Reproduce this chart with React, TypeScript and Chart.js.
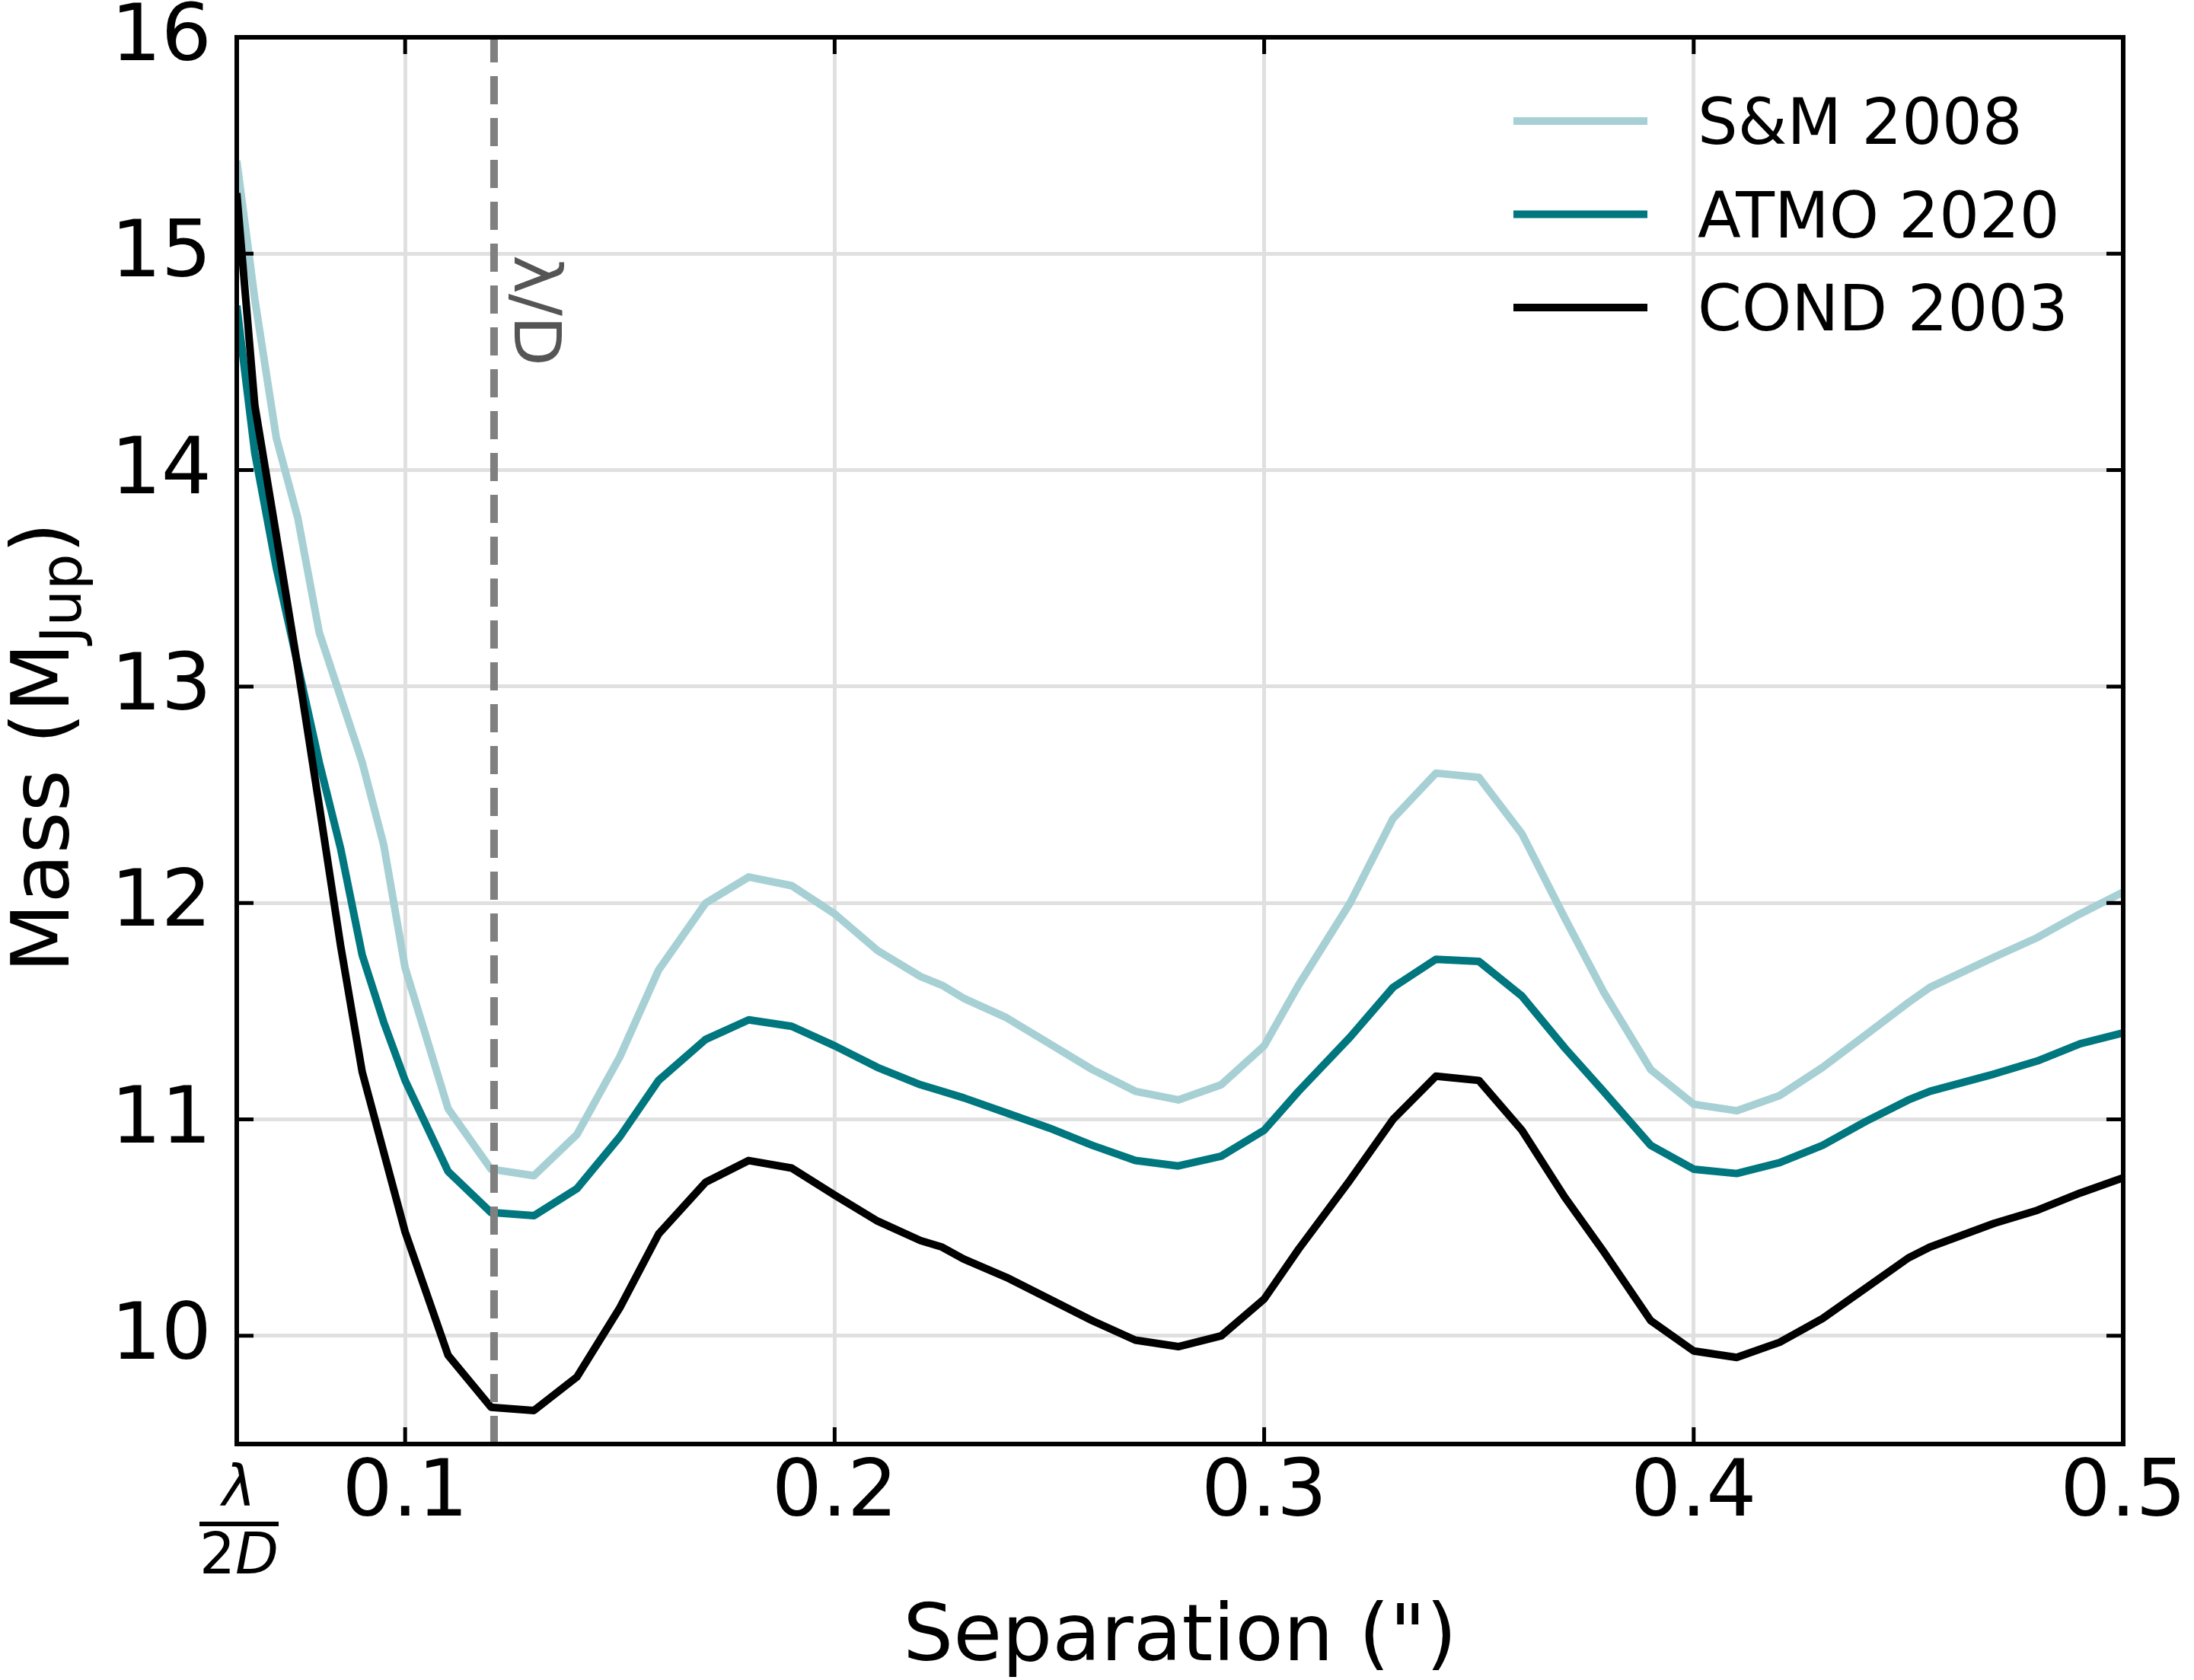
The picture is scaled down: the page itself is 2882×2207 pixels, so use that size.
import { useEffect, useRef } from 'react';
import { Chart, registerables } from 'chart.js';

Chart.register(...registerables);

const FONT = "'DejaVu Sans', sans-serif";

// λ/2D and λ/D in arcsec
const LAMBDA_2D = 0.0608;
const LAMBDA_D = 0.1207;

const Y_MIN = 9.5;
const Y_MAX = 16;

const separation = [
  0.0608, 0.065, 0.07, 0.075, 0.08, 0.085, 0.09, 0.095, 0.1, 0.11, 0.12, 0.13, 0.14, 0.15,
  0.159, 0.17, 0.18, 0.19, 0.2, 0.21, 0.22, 0.225, 0.23, 0.24, 0.25, 0.26, 0.27, 0.28, 0.29,
  0.3, 0.308, 0.32, 0.33, 0.34, 0.35, 0.36, 0.37, 0.379, 0.39, 0.4, 0.41, 0.42, 0.43, 0.44,
  0.45, 0.455, 0.47, 0.48, 0.49, 0.5,
];

const smMass = [
  15.43, 14.79, 14.15, 13.78, 13.25, 12.95, 12.65, 12.27, 11.7, 11.05, 10.77, 10.74, 10.93, 11.29,
  11.69, 12.0, 12.12, 12.08, 11.95, 11.78, 11.66, 11.62, 11.56, 11.47, 11.35, 11.23, 11.13, 11.09, 11.16,
  11.34, 11.62, 12.0, 12.39, 12.6, 12.58, 12.32, 11.93, 11.59, 11.23, 11.07, 11.04, 11.11, 11.24, 11.39,
  11.54, 11.61, 11.75, 11.84, 11.95, 12.05,
];

const atmoMass = [
  14.76, 14.08, 13.55, 13.1, 12.65, 12.25, 11.76, 11.45, 11.18, 10.76, 10.57, 10.555, 10.68, 10.92,
  11.18, 11.37, 11.46, 11.43, 11.34, 11.24, 11.16, 11.13, 11.1, 11.03, 10.96, 10.88, 10.81, 10.785, 10.83,
  10.95, 11.13, 11.38, 11.61, 11.74, 11.73, 11.57, 11.33, 11.13, 10.88, 10.77, 10.75, 10.8, 10.88, 10.99,
  11.09, 11.13, 11.21, 11.27, 11.35, 11.4,
];

const condMass = [
  15.28, 14.3, 13.7, 13.09, 12.45, 11.8, 11.22, 10.85, 10.48, 9.91, 9.67, 9.655, 9.81, 10.13,
  10.47, 10.71, 10.81, 10.775, 10.65, 10.53, 10.44, 10.41, 10.355, 10.27, 10.17, 10.07, 9.98, 9.95, 10.0,
  10.17, 10.4, 10.72, 11.0, 11.2, 11.18, 10.95, 10.64, 10.39, 10.07, 9.93, 9.9, 9.97, 10.08, 10.22,
  10.36, 10.41, 10.52, 10.58, 10.66, 10.73,
];

const xTickValues = [LAMBDA_2D, 0.1, 0.2, 0.3, 0.4, 0.5];
const yTickValues = [10, 11, 12, 13, 14, 15, 16];

const seriesLabels = ['S&M 2008', 'ATMO 2020', 'COND 2003'];
const seriesColors = ['#a7d0d4', '#00767f', '#000000'];

const toPoints = (ys: number[]) => separation.map((x, i) => ({ x, y: ys[i] }));

// ticks pointing inward on all four sides, the frame, the λ/2D label, legend, y title
const framePlugin = {
  id: 'frame',
  afterDraw(chart: Chart) {
    const ctx = chart.ctx;
    const { left, right, top, bottom } = chart.chartArea;
    const xs = chart.scales.x;
    const ys = chart.scales.y;
    ctx.save();

    ctx.strokeStyle = '#000';
    ctx.lineWidth = 5;
    ctx.beginPath();
    xTickValues.forEach((v) => {
      const px = xs.getPixelForValue(v);
      ctx.moveTo(px, bottom);
      ctx.lineTo(px, bottom - 22);
      ctx.moveTo(px, top);
      ctx.lineTo(px, top + 22);
    });
    yTickValues.forEach((v) => {
      const py = ys.getPixelForValue(v);
      ctx.moveTo(left, py);
      ctx.lineTo(left + 22, py);
      ctx.moveTo(right, py);
      ctx.lineTo(right - 22, py);
    });
    ctx.stroke();

    ctx.lineWidth = 6;
    ctx.strokeRect(left, top, right - left, bottom - top);

    // λ/2D fraction under the left edge
    const cx = xs.getPixelForValue(LAMBDA_2D) + 3;
    ctx.fillStyle = '#000';
    ctx.textAlign = 'center';
    ctx.textBaseline = 'alphabetic';
    ctx.font = `italic 74px ${FONT}`;
    ctx.fillText('λ', cx, bottom + 81);
    ctx.fillRect(cx - 52, bottom + 102, 104, 6);
    ctx.font = `74px ${FONT}`;
    const w2 = ctx.measureText('2').width;
    ctx.font = `italic 74px ${FONT}`;
    const wD = ctx.measureText('D').width;
    ctx.textAlign = 'left';
    ctx.font = `74px ${FONT}`;
    ctx.fillText('2', cx - (w2 + wD) / 2, bottom + 170);
    ctx.font = `italic 74px ${FONT}`;
    ctx.fillText('D', cx - (w2 + wD) / 2 + w2, bottom + 170);

    // λ/D label along the dashed line
    ctx.save();
    ctx.translate(xs.getPixelForValue(LAMBDA_D) + 27, 335);
    ctx.rotate(Math.PI / 2);
    ctx.fillStyle = '#555555';
    ctx.font = `86px ${FONT}`;
    ctx.textAlign = 'left';
    ctx.fillText('λ/D', 0, 0);
    ctx.restore();

    // y axis title with subscript
    ctx.save();
    ctx.translate(90, 982);
    ctx.rotate(-Math.PI / 2);
    ctx.fillStyle = '#000';
    ctx.textAlign = 'left';
    ctx.font = `106px ${FONT}`;
    const wMain = ctx.measureText('Mass (M').width;
    const wClose = ctx.measureText(')').width;
    ctx.font = `75px ${FONT}`;
    const wSub = ctx.measureText('Jup').width;
    let tx = -(wMain + wSub + wClose) / 2;
    ctx.font = `106px ${FONT}`;
    ctx.fillText('Mass (M', tx, 0);
    tx += wMain;
    ctx.font = `75px ${FONT}`;
    ctx.fillText('Jup', tx, 16);
    tx += wSub;
    ctx.font = `106px ${FONT}`;
    ctx.fillText(')', tx, 0);
    ctx.restore();

    // legend
    ctx.font = `83px ${FONT}`;
    ctx.textAlign = 'left';
    ctx.textBaseline = 'alphabetic';
    seriesLabels.forEach((label, i) => {
      const ly = 159 + i * 122.5;
      ctx.strokeStyle = seriesColors[i];
      ctx.lineWidth = 10;
      ctx.beginPath();
      ctx.moveTo(1988, ly);
      ctx.lineTo(2164, ly);
      ctx.stroke();
      ctx.fillStyle = '#000';
      ctx.fillText(label, 2230, ly + 30);
    });

    ctx.restore();
  },
};

const MassLimits = () => {
  const canvasRef = useRef<HTMLCanvasElement>(null);

  useEffect(() => {
    if (!canvasRef.current) return;

    const line = (label: string, ys: number[], color: string, order: number) => ({
      label,
      data: toPoints(ys),
      borderColor: color,
      backgroundColor: color,
      borderWidth: 10,
      pointRadius: 0,
      tension: 0,
      borderJoinStyle: 'round' as const,
      order,
    });

    const chart = new Chart(canvasRef.current, {
      type: 'line',
      data: {
        datasets: [
          {
            label: 'lambda/D',
            data: [
              { x: LAMBDA_D, y: Y_MIN },
              { x: LAMBDA_D, y: Y_MAX },
            ],
            borderColor: '#808080',
            borderWidth: 10,
            borderDash: [37, 18],
            pointRadius: 0,
            order: 0,
          },
          line(seriesLabels[2], condMass, seriesColors[2], 1),
          line(seriesLabels[1], atmoMass, seriesColors[1], 2),
          line(seriesLabels[0], smMass, seriesColors[0], 3),
        ],
      },
      options: {
        responsive: true,
        maintainAspectRatio: false,
        devicePixelRatio: 1,
        animation: false,
        layout: { padding: { left: 0, top: 49, right: 93, bottom: 0 } },
        plugins: {
          legend: { display: false },
          tooltip: { enabled: false },
        },
        scales: {
          x: {
            type: 'linear',
            min: LAMBDA_2D,
            max: 0.5,
            afterFit: (scale: any) => {
              scale.height = 310;
            },
            afterBuildTicks: (scale: any) => {
              scale.ticks = xTickValues.map((value) => ({ value }));
            },
            ticks: {
              padding: 5,
              color: '#000',
              font: { family: FONT, size: 104 },
              maxRotation: 0,
              autoSkip: false,
              callback: (value: any) => (value === LAMBDA_2D ? '' : Number(value).toFixed(1)),
            },
            grid: { color: '#e0e0e0', lineWidth: 5, drawTicks: false },
            border: { display: false },
            title: {
              display: true,
              text: 'Separation (")',
              color: '#000',
              font: { family: FONT, size: 104, lineHeight: 1 },
              padding: { top: 0, bottom: 1 },
            },
          },
          y: {
            type: 'linear',
            min: Y_MIN,
            max: Y_MAX,
            afterFit: (scale: any) => {
              scale.width = 311;
              scale.paddingTop = 0;
              scale.paddingBottom = 0;
            },
            afterBuildTicks: (scale: any) => {
              scale.ticks = yTickValues.map((value) => ({ value }));
            },
            ticks: {
              padding: 33,
              labelOffset: 3,
              color: '#000',
              font: { family: FONT, size: 104, lineHeight: 0.5 },
              callback: (value: any) => String(value),
            },
            grid: { color: '#e0e0e0', lineWidth: 5, drawTicks: false },
            border: { display: false },
          },
        },
      },
      plugins: [framePlugin],
    });

    return () => {
      chart.destroy();
    };
  }, []);

  return (
    <div style={{ position: 'absolute', left: 0, top: 0, width: 2882, height: 2207, background: '#fff' }}>
      <canvas ref={canvasRef} />
    </div>
  );
};

export default function App() {
  return <MassLimits />;
}
